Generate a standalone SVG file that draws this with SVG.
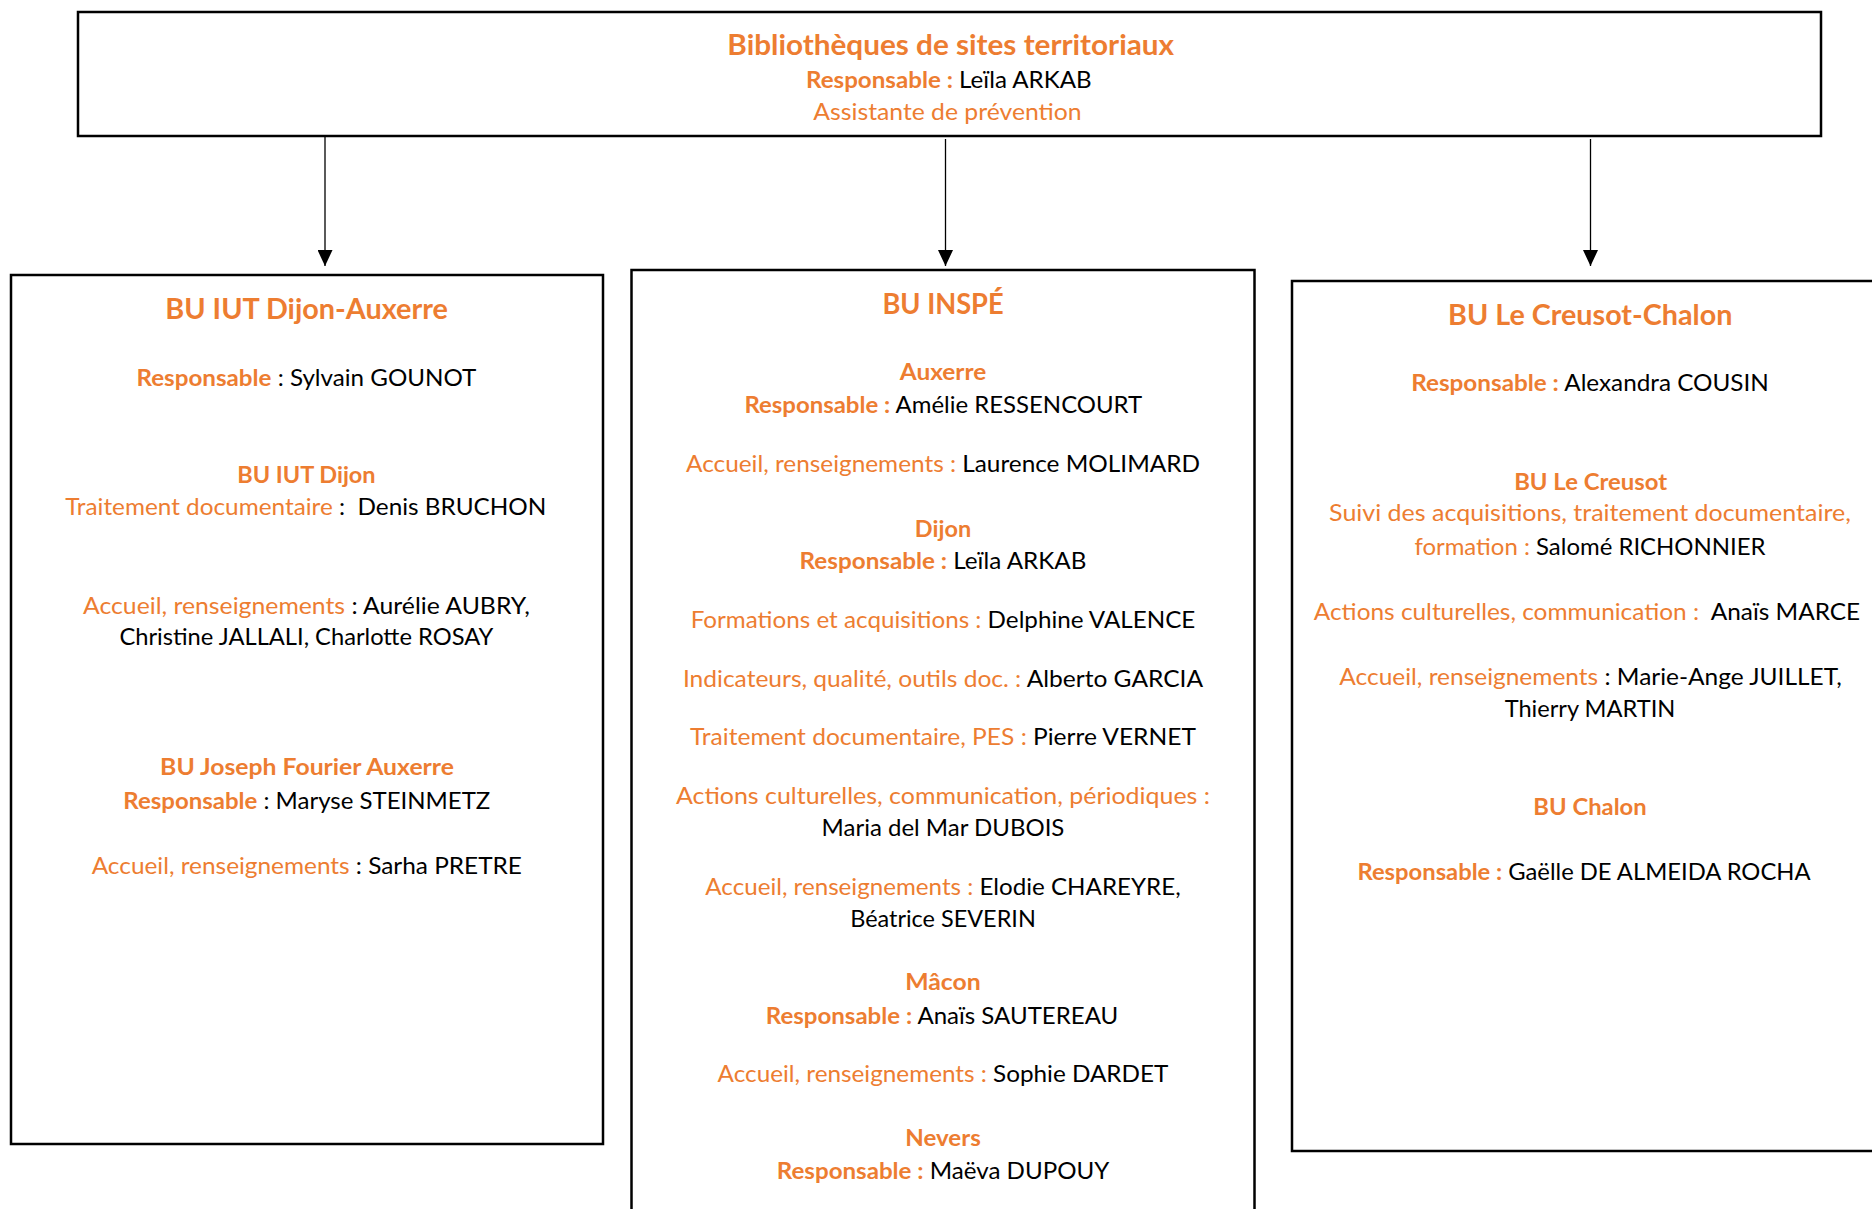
<svg xmlns="http://www.w3.org/2000/svg" width="1872" height="1209" viewBox="0 0 1872 1209">
<style>
text{font-family:Lato,"Liberation Sans",sans-serif;font-size:23.7px;fill:#000;text-anchor:middle;white-space:pre}
.o{fill:#ED7D31}
.b{font-weight:700}
.t{font-size:28.5px;font-weight:700;fill:#ED7D31}
.box{fill:#fff;stroke:#000;stroke-width:2.5}
.conn{stroke:#000;stroke-width:1.3;fill:none}
</style>
<defs>
<marker id="arr" viewBox="0 0 16 15" refX="16" refY="7.5" markerWidth="16" markerHeight="15" markerUnits="userSpaceOnUse" orient="auto">
<path d="M0,0 L16,7.5 L0,15 z" fill="#000"/>
</marker>
</defs>
<rect width="1872" height="1209" fill="#fff"/>
<g id="connectors">
<line class="conn" x1="325" y1="137" x2="325" y2="266" marker-end="url(#arr)"/>
<line class="conn" x1="945.5" y1="139" x2="945.5" y2="266" marker-end="url(#arr)"/>
<line class="conn" x1="1590.5" y1="139" x2="1590.5" y2="266" marker-end="url(#arr)"/>
</g>
<g id="node-top">
<rect class="box" x="78" y="12" width="1743" height="124"/>
<text class="t" x="950.7" y="54.5" textLength="446.7" lengthAdjust="spacingAndGlyphs">Bibliothèques de sites territoriaux</text>
<text x="948.8" y="88" textLength="285.7" lengthAdjust="spacingAndGlyphs"><tspan class="o b">Responsable :</tspan> Leïla ARKAB</text>
<text class="o" x="947.5" y="119.5" textLength="268.3" lengthAdjust="spacingAndGlyphs">Assistante de prévention</text>
</g>
<g id="node-iut">
<rect class="box" x="11" y="275" width="592" height="869"/>
<text class="t" x="306.6" y="319" textLength="282.7" lengthAdjust="spacingAndGlyphs">BU IUT Dijon-Auxerre</text>
<text x="306.4" y="386" textLength="340" lengthAdjust="spacingAndGlyphs"><tspan class="o b">Responsable</tspan> : Sylvain GOUNOT</text>
<text class="o b" x="306.4" y="483" textLength="138.4" lengthAdjust="spacingAndGlyphs">BU IUT Dijon</text>
<text x="305.8" y="515" textLength="481.2" lengthAdjust="spacingAndGlyphs"><tspan class="o">Traitement documentaire</tspan> :  Denis BRUCHON</text>
<text x="306.4" y="614" textLength="446.8" lengthAdjust="spacingAndGlyphs"><tspan class="o">Accueil, renseignements</tspan> : Aurélie AUBRY,</text>
<text x="306.4" y="645" textLength="374" lengthAdjust="spacingAndGlyphs">Christine JALLALI, Charlotte ROSAY</text>
<text class="o b" x="307" y="775" textLength="293.8" lengthAdjust="spacingAndGlyphs">BU Joseph Fourier Auxerre</text>
<text x="306.8" y="809" textLength="366.9" lengthAdjust="spacingAndGlyphs"><tspan class="o b">Responsable</tspan> : Maryse STEINMETZ</text>
<text x="306.8" y="874" textLength="430.2" lengthAdjust="spacingAndGlyphs"><tspan class="o">Accueil, renseignements</tspan> : Sarha PRETRE</text>
</g>
<g id="node-inspe">
<rect class="box" x="631.5" y="270" width="623" height="1000"/>
<text class="t" x="943" y="314" textLength="121.2" lengthAdjust="spacingAndGlyphs">BU INSPÉ</text>
<text class="o b" x="943" y="380" textLength="86.5" lengthAdjust="spacingAndGlyphs">Auxerre</text>
<text x="943.3" y="413" textLength="397.8" lengthAdjust="spacingAndGlyphs"><tspan class="o b">Responsable :</tspan> Amélie RESSENCOURT</text>
<text x="943" y="472" textLength="514" lengthAdjust="spacingAndGlyphs"><tspan class="o">Accueil, renseignements : </tspan>Laurence MOLIMARD</text>
<text class="o b" x="943" y="537" textLength="56.3" lengthAdjust="spacingAndGlyphs">Dijon</text>
<text x="943" y="569" textLength="286.8" lengthAdjust="spacingAndGlyphs"><tspan class="o b">Responsable :</tspan> Leïla ARKAB</text>
<text x="943" y="628" textLength="504.7" lengthAdjust="spacingAndGlyphs"><tspan class="o">Formations et acquisitions : </tspan>Delphine VALENCE</text>
<text x="943" y="687" textLength="520.2" lengthAdjust="spacingAndGlyphs"><tspan class="o">Indicateurs, qualité, outils doc. : </tspan>Alberto GARCIA</text>
<text x="943" y="745" textLength="505.9" lengthAdjust="spacingAndGlyphs"><tspan class="o">Traitement documentaire, PES : </tspan>Pierre VERNET</text>
<text class="o" x="943" y="804" textLength="534" lengthAdjust="spacingAndGlyphs">Actions culturelles, communication, périodiques :</text>
<text x="943" y="836" textLength="242.8" lengthAdjust="spacingAndGlyphs">Maria del Mar DUBOIS</text>
<text x="943" y="895" textLength="475.3" lengthAdjust="spacingAndGlyphs"><tspan class="o">Accueil, renseignements : </tspan>Elodie CHAREYRE,</text>
<text x="943" y="927" textLength="185.6" lengthAdjust="spacingAndGlyphs">Béatrice SEVERIN</text>
<text class="o b" x="943" y="990" textLength="75.5" lengthAdjust="spacingAndGlyphs">Mâcon</text>
<text x="942" y="1024" textLength="352.5" lengthAdjust="spacingAndGlyphs"><tspan class="o b">Responsable :</tspan> Anaïs SAUTEREAU</text>
<text x="943" y="1082" textLength="450.8" lengthAdjust="spacingAndGlyphs"><tspan class="o">Accueil, renseignements : </tspan>Sophie DARDET</text>
<text class="o b" x="943" y="1146" textLength="75.5" lengthAdjust="spacingAndGlyphs">Nevers</text>
<text x="943" y="1179" textLength="332.5" lengthAdjust="spacingAndGlyphs"><tspan class="o b">Responsable :</tspan> Maëva DUPOUY</text>
</g>
<g id="node-creusot">
<rect class="box" x="1292" y="281" width="700" height="870"/>
<text class="t" x="1590.2" y="325" textLength="284.3" lengthAdjust="spacingAndGlyphs">BU Le Creusot-Chalon</text>
<text x="1590" y="391" textLength="357.6" lengthAdjust="spacingAndGlyphs"><tspan class="o b">Responsable :</tspan> Alexandra COUSIN</text>
<text class="o b" x="1590.6" y="490" textLength="152.9" lengthAdjust="spacingAndGlyphs">BU Le Creusot</text>
<text class="o" x="1590" y="521" textLength="521.8" lengthAdjust="spacingAndGlyphs">Suivi des acquisitions, traitement documentaire,</text>
<text x="1590" y="555" textLength="351.2" lengthAdjust="spacingAndGlyphs"><tspan class="o">formation : </tspan>Salomé RICHONNIER</text>
<text x="1587" y="620" textLength="546.4" lengthAdjust="spacingAndGlyphs"><tspan class="o">Actions culturelles, communication : </tspan> Anaïs MARCE</text>
<text x="1590.6" y="685" textLength="502.6" lengthAdjust="spacingAndGlyphs"><tspan class="o">Accueil, renseignements</tspan> : Marie-Ange JUILLET,</text>
<text x="1590" y="717" textLength="170.7" lengthAdjust="spacingAndGlyphs">Thierry MARTIN</text>
<text class="o b" x="1590" y="815" textLength="113.3" lengthAdjust="spacingAndGlyphs">BU Chalon</text>
<text x="1584" y="880" textLength="453.1" lengthAdjust="spacingAndGlyphs"><tspan class="o b">Responsable :</tspan> Gaëlle DE ALMEIDA ROCHA</text>
</g>
</svg>
